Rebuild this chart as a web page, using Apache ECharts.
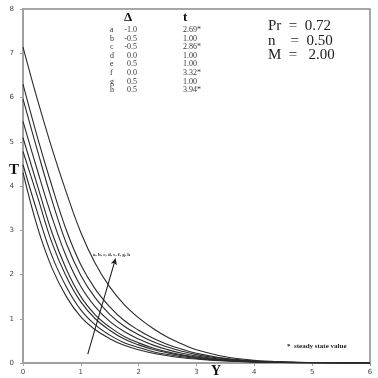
<!DOCTYPE html>
<html>
<head>
<meta charset="utf-8">
<style>
  html, body { margin: 0; padding: 0; background: #fff; }
  #chart { width: 378px; height: 378px; }
</style>
<script src="https://cdn.jsdelivr.net/npm/echarts@6/dist/echarts.min.js"></script>
</head>
<body>
<div id="chart"></div>
<script>
// Y positions where the curves were read
const yPos = [0, 0.25, 0.5, 0.75, 1, 1.25, 1.5, 1.75, 2, 2.25, 2.5, 2.75, 3, 3.5, 4, 4.5, 5, 5.5, 6]

// T profiles, lowest start value to highest
const curve1 = [4.30, 3.07, 2.15, 1.50, 1.04, 0.75, 0.55, 0.40, 0.30, 0.22, 0.165, 0.12, 0.09, 0.045, 0.020, 0.010, 0.005, 0.002, 0.001]
const curve2 = [4.48, 3.40, 2.42, 1.72, 1.20, 0.86, 0.63, 0.46, 0.35, 0.256, 0.192, 0.14, 0.104, 0.052, 0.023, 0.011, 0.0055, 0.0022, 0.001]
const curve3 = [4.78, 3.76, 2.72, 1.95, 1.38, 1.00, 0.74, 0.54, 0.41, 0.306, 0.229, 0.167, 0.123, 0.060, 0.027, 0.013, 0.006, 0.0025, 0.001]
const curve4 = [5.09, 4.01, 2.95, 2.12, 1.50, 1.09, 0.81, 0.60, 0.455, 0.338, 0.253, 0.185, 0.136, 0.066, 0.029, 0.014, 0.0065, 0.0027, 0.0011]
const curve5 = [5.46, 4.35, 3.30, 2.40, 1.73, 1.27, 0.94, 0.71, 0.54, 0.404, 0.302, 0.221, 0.16, 0.078, 0.034, 0.016, 0.007, 0.003, 0.0012]
const curve6 = [5.97, 4.80, 3.68, 2.70, 1.98, 1.47, 1.10, 0.83, 0.64, 0.48, 0.36, 0.265, 0.19, 0.091, 0.040, 0.019, 0.008, 0.0033, 0.0013]
const curve7 = [6.30, 5.10, 4.00, 3.00, 2.22, 1.67, 1.27, 0.96, 0.74, 0.56, 0.42, 0.31, 0.22, 0.104, 0.045, 0.021, 0.009, 0.0036, 0.0014]
const curve8 = [7.14, 5.95, 4.85, 3.85, 2.95, 2.25, 1.72, 1.32, 1.02, 0.78, 0.58, 0.43, 0.30, 0.14, 0.06, 0.025, 0.010, 0.004, 0.0015]
const curves = [curve1, curve2, curve3, curve4, curve5, curve6, curve7, curve8]

// parameter table
const rowLetters = ['a', 'b', 'c', 'd', 'e', 'f', 'g', 'h']
const deltaVals = ['-1.0', '-0.5', '-0.5', '0.0', '0.5', '0.0', '0.5', '0.5']
const tVals = ['2.69*', '1.00', '2.86*', '1.00', '1.00', '3.32*', '1.00', '3.94*']
const paramLines = ['Pr  =  0.72', 'n    =  0.50', 'M  =   2.00']

// arrow across the curves, in data units
const arrowFrom = [1.12, 0.2]
const arrowTo = [1.6, 2.36]

const serif = '"Liberation Serif", "DejaVu Serif", serif'

const chart = echarts.init(document.getElementById('chart'))

const graphics = []
graphics.push({ type: 'text', left: 124, top: 11, style: { text: 'Δ', font: 'bold 13px ' + serif, fill: '#111' } })
graphics.push({ type: 'text', left: 183, top: 11, style: { text: 't', font: 'bold 13px ' + serif, fill: '#111' } })
rowLetters.forEach((l, i) => {
  const y = 26 + i * 8.6
  graphics.push({ type: 'text', left: 110, top: y, style: { text: l, font: '8px ' + serif, fill: '#333' } })
  graphics.push({ type: 'text', x: 137, y: y, style: { text: deltaVals[i], font: '8px ' + serif, fill: '#333', align: 'right' } })
  graphics.push({ type: 'text', left: 183, top: y, style: { text: tVals[i], font: '8px ' + serif, fill: '#333' } })
})
paramLines.forEach((s, i) => {
  graphics.push({ type: 'text', left: 268, top: 19 + i * 14.5, style: { text: s, font: '15px ' + serif, fill: '#222' } })
})
graphics.push({ type: 'text', left: 9, top: 163, style: { text: 'T', font: 'bold 15px ' + serif, fill: '#111' } })
graphics.push({ type: 'text', left: 211, top: 364, style: { text: 'Y', font: 'bold 14px ' + serif, fill: '#111' } })
graphics.push({ type: 'text', left: 287, top: 343, style: { text: '*  steady state value', font: 'bold 7px ' + serif, fill: '#222' } })
graphics.push({ type: 'text', left: 93, top: 252, style: { text: 'a, b, c, d, e, f, g, h', font: 'bold 5px ' + serif, fill: '#222' } })

const series = curves.map((c, k) => ({
  name: rowLetters[k],
  type: 'line',
  smooth: 0.4,
  symbol: 'none',
  lineStyle: { color: '#2a2a2a', width: 1.1 },
  data: yPos.map((x, i) => [x, c[i]]),
  z: 3
}))

series.push({
  type: 'line',
  data: [],
  markLine: {
    silent: true,
    symbol: ['none', 'arrow'],
    symbolSize: [5, 6],
    label: { show: false },
    lineStyle: { color: '#222', width: 1.1, type: 'solid' },
    data: [[{ coord: arrowFrom }, { coord: arrowTo }]]
  }
})

chart.setOption({
  animation: false,
  backgroundColor: '#fff',
  grid: {
    left: 23,
    right: 8,
    top: 9,
    bottom: 15,
    show: true,
    borderColor: '#8a8a8a',
    borderWidth: 1.5
  },
  xAxis: {
    type: 'value',
    min: 0,
    max: 6,
    interval: 1,
    axisLine: { lineStyle: { color: '#a0a0a0', width: 2 } },
    axisTick: { show: true, length: 3, lineStyle: { color: '#a0a0a0' } },
    axisLabel: { fontSize: 7, color: '#444', margin: 6, fontFamily: 'DejaVu Sans' },
    splitLine: { show: false }
  },
  yAxis: {
    type: 'value',
    min: 0,
    max: 8,
    interval: 1,
    axisLine: { show: true, lineStyle: { color: '#a0a0a0', width: 2 } },
    axisTick: { show: true, length: 3, lineStyle: { color: '#a0a0a0' } },
    axisLabel: { fontSize: 7, color: '#444', margin: 9, fontFamily: 'DejaVu Sans' },
    splitLine: { show: false }
  },
  graphic: graphics,
  series: series
})
</script>
</body>
</html>
